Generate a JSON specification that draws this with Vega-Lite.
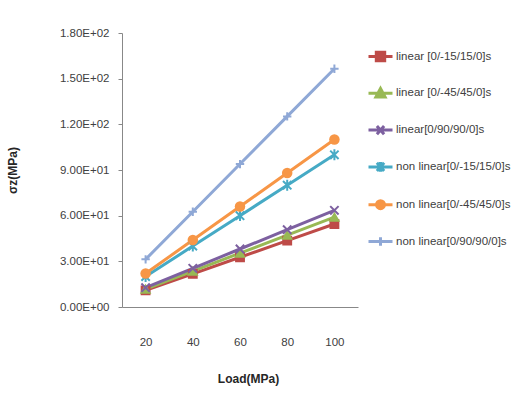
{
  "$schema": "https://vega.github.io/schema/vega-lite/v6.json",
  "width": 236,
  "height": 274,
  "autosize": {"type": "none"},
  "padding": {"left": 122, "top": 33, "right": 171, "bottom": 91},
  "background": "white",
  "config": {
    "view": {"stroke": null},
    "font": "Liberation Sans",
    "axis": {"labelFont": "Liberation Sans", "titleFont": "Liberation Sans", "labelColor": "#404040", "titleColor": "#262626", "domainColor": "#888888", "tickColor": "#888888", "grid": false},
    "legend": {"labelFont": "Liberation Sans"}
  },
  "datasets": {"pts": [
    {"series": "linear [0/-15/15/0]s", "load": 20, "sz": 10.9},
    {"series": "linear [0/-15/15/0]s", "load": 40, "sz": 21.8},
    {"series": "linear [0/-15/15/0]s", "load": 60, "sz": 32.7},
    {"series": "linear [0/-15/15/0]s", "load": 80, "sz": 43.6},
    {"series": "linear [0/-15/15/0]s", "load": 100, "sz": 54.5},
    {"series": "linear [0/-45/45/0]s", "load": 20, "sz": 11.8},
    {"series": "linear [0/-45/45/0]s", "load": 40, "sz": 23.6},
    {"series": "linear [0/-45/45/0]s", "load": 60, "sz": 35.4},
    {"series": "linear [0/-45/45/0]s", "load": 80, "sz": 47.2},
    {"series": "linear [0/-45/45/0]s", "load": 100, "sz": 59.0},
    {"series": "linear[0/90/90/0]s", "load": 20, "sz": 12.7},
    {"series": "linear[0/90/90/0]s", "load": 40, "sz": 25.4},
    {"series": "linear[0/90/90/0]s", "load": 60, "sz": 38.1},
    {"series": "linear[0/90/90/0]s", "load": 80, "sz": 50.8},
    {"series": "linear[0/90/90/0]s", "load": 100, "sz": 63.5},
    {"series": "non linear[0/-15/15/0]s", "load": 20, "sz": 20.0},
    {"series": "non linear[0/-15/15/0]s", "load": 40, "sz": 40.0},
    {"series": "non linear[0/-15/15/0]s", "load": 60, "sz": 60.0},
    {"series": "non linear[0/-15/15/0]s", "load": 80, "sz": 80.0},
    {"series": "non linear[0/-15/15/0]s", "load": 100, "sz": 100.0},
    {"series": "non linear[0/-45/45/0]s", "load": 20, "sz": 22.0},
    {"series": "non linear[0/-45/45/0]s", "load": 40, "sz": 44.0},
    {"series": "non linear[0/-45/45/0]s", "load": 60, "sz": 66.0},
    {"series": "non linear[0/-45/45/0]s", "load": 80, "sz": 88.0},
    {"series": "non linear[0/-45/45/0]s", "load": 100, "sz": 110.0},
    {"series": "non linear[0/90/90/0]s", "load": 20, "sz": 31.3},
    {"series": "non linear[0/90/90/0]s", "load": 40, "sz": 62.6},
    {"series": "non linear[0/90/90/0]s", "load": 60, "sz": 93.9},
    {"series": "non linear[0/90/90/0]s", "load": 80, "sz": 125.2},
    {"series": "non linear[0/90/90/0]s", "load": 100, "sz": 156.5}
  ]},
  "data": {"name": "pts"},
  "encoding": {
    "x": {"field": "load", "type": "ordinal", "sort": null,
      "scale": {"type": "point", "padding": 0.5, "domain": [20, 40, 60, 80, 100]},
      "axis": {"title": "Load(MPa)", "labelAngle": 0, "labelFontSize": 11.5, "ticks": false, "tickSize": 0, "labelPadding": 29,
        "titleFontSize": 12, "titleFontWeight": "bold", "titleX": 126, "titleY": 71, "titleBaseline": "middle"}},
    "y": {"field": "sz", "type": "quantitative",
      "scale": {"domain": [0, 180], "nice": false},
      "axis": {"title": "σz(MPa)", "values": [0, 30, 60, 90, 120, 150, 180], "tickSize": 4, "labelPadding": 9, "labelFontSize": 11.5,
        "labelExpr": "(datum.value == 0 ? '0.00E+00' : format(datum.value / pow(10, floor(log(datum.value) / LN10)), '.2f') + 'E+' + (floor(log(datum.value) / LN10) < 10 ? '0' : '') + floor(log(datum.value) / LN10))",
        "titleFontSize": 12, "titleFontWeight": "bold", "titleX": -110, "titleY": 137, "titleAngle": -90, "titleBaseline": "middle", "titleAlign": "center"}},
    "color": {"field": "series", "type": "nominal", "sort": null, "legend": null,
      "scale": {"domain": ["linear [0/-15/15/0]s", "linear [0/-45/45/0]s", "linear[0/90/90/0]s", "non linear[0/-15/15/0]s", "non linear[0/-45/45/0]s", "non linear[0/90/90/0]s"],
        "range": ["#BE4B48", "#98B954", "#7D60A0", "#46AAC5", "#F79646", "#8FA8D6"]}}
  },
  "layer": [
    {
      "mark": {"type": "line", "strokeWidth": 3},
      "encoding": {
        "color": {"field": "series", "type": "nominal", "sort": null,
          "legend": {
            "orient": "none", "legendX": 245, "legendY": 10, "title": null,
            "labelFontSize": 11.5, "labelColor": "#404040", "labelOffset": 2, "rowPadding": 12.8,
            "symbolSize": 576, "symbolType": "M-1,0H1",
            "encode": {"symbols": {"update": {
              "shape": {"signal": "['M-1,0H1M-0.35,-0.35H0.35V0.35H-0.35Z', 'M-1,0H1M0,-0.4L0.38,0.3L-0.38,0.3Z', 'M-1,0H1M-0.3,-0.35L0.3,0.35M-0.3,0.35L0.3,-0.35', 'M-1,0H1M-0.3,-0.35L0.3,0.35M-0.3,0.35L0.3,-0.35M0,-0.4V0.4', 'M-1,0H1M-0.33,0A0.33,0.33 0 1,0 0.33,0A0.33,0.33 0 1,0 -0.33,0Z', 'M-1,0H1M0,-0.35V0.35'][indexof(['linear [0/-15/15/0]s', 'linear [0/-45/45/0]s', 'linear[0/90/90/0]s', 'non linear[0/-15/15/0]s', 'non linear[0/-45/45/0]s', 'non linear[0/90/90/0]s'], datum.value)]"},
              "fill": {"scale": "color", "field": "value"},
              "stroke": {"scale": "color", "field": "value"},
              "strokeWidth": {"value": 3},
              "size": {"value": 576},
              "opacity": {"value": 1}
            }}}
          }}
      }
    },
    {
      "transform": [{"filter": "datum.series == 'linear [0/-15/15/0]s'"}],
      "mark": {"type": "point", "filled": true, "opacity": 1, "shape": "square", "size": 70, "strokeWidth": 1.5, "stroke": "#BE4B48"}
    },
    {
      "transform": [{"filter": "datum.series == 'linear [0/-45/45/0]s'"}],
      "mark": {"type": "point", "filled": true, "opacity": 1, "shape": "triangle-up", "size": 80, "strokeWidth": 1.5, "stroke": "#98B954"}
    },
    {
      "transform": [{"filter": "datum.series == 'linear[0/90/90/0]s'"}],
      "mark": {"type": "point", "filled": false, "opacity": 1, "shape": "M-1,-1L1,1M-1,1L1,-1", "size": 70, "strokeWidth": 2}
    },
    {
      "transform": [{"filter": "datum.series == 'non linear[0/-15/15/0]s'"}],
      "mark": {"type": "point", "filled": false, "opacity": 1, "shape": "M-1,-1L1,1M-1,1L1,-1M0,-1.3V1.3", "size": 70, "strokeWidth": 2}
    },
    {
      "transform": [{"filter": "datum.series == 'non linear[0/-45/45/0]s'"}],
      "mark": {"type": "point", "filled": true, "opacity": 1, "shape": "circle", "size": 110}
    },
    {
      "transform": [{"filter": "datum.series == 'non linear[0/90/90/0]s'"}],
      "mark": {"type": "point", "filled": false, "opacity": 1, "shape": "M0,-1V1M-1,0H1", "size": 70, "strokeWidth": 2}
    }
  ]
}
